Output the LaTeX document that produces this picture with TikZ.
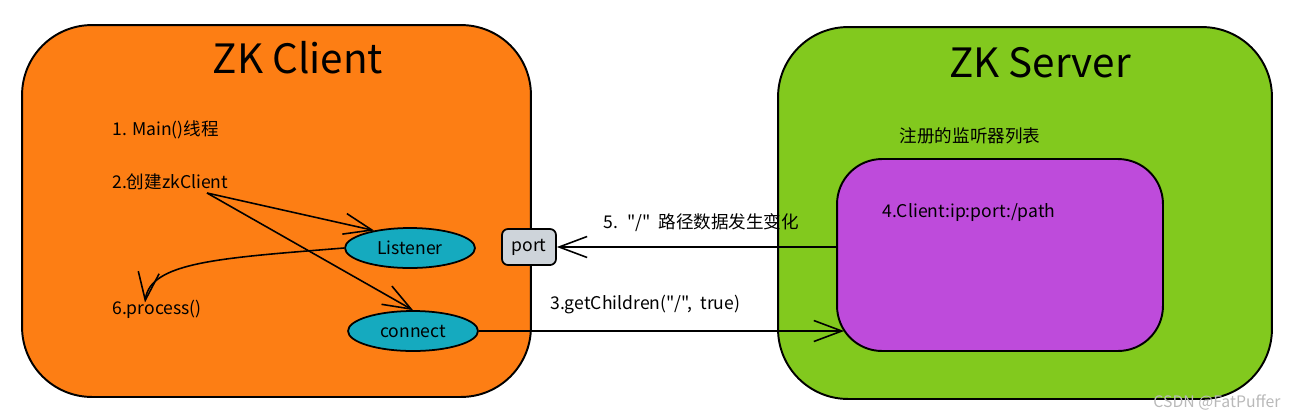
\documentclass[tikz,border=0pt]{standalone}
\usepackage{fontspec}
\setmainfont{Noto Sans CJK SC}[Ligatures=TeXOff]
\usetikzlibrary{shapes.geometric,arrows.meta,calc}
\definecolor{clientorange}{HTML}{FD7E14}
\definecolor{servergreen}{HTML}{82C91E}
\definecolor{listpurple}{HTML}{BE4BDB}
\definecolor{threadcyan}{HTML}{15AABF}
\definecolor{portgray}{HTML}{CED4DA}
\tikzset{
  box/.style = {draw, line width=1.1pt, rounded corners=1.4cm},
  thread/.style = {ellipse, draw, line width=1pt, fill=threadcyan,
    minimum width=2.6cm, minimum height=0.8cm, inner sep=0pt},
  title/.style = {font=\fontsize{23}{28}\selectfont},
  note/.style = {anchor=west, inner sep=0pt},
  call/.style = {-{Straight Barb[length=5.6mm,width=4.2mm]}, line width=0.9pt}
}

\begin{document}
\begin{tikzpicture}[x=0.02cm,y=-0.02cm]
  \useasboundingbox (0,0) rectangle (1289,417);
  \node[box,fill=clientorange,minimum width=10.18cm,minimum height=7.44cm] (client) at (276.5,211) {};
  \node[box,fill=servergreen,minimum width=9.88cm,minimum height=7.44cm] (server) at (1025,213) {};
  \node[box,rounded corners=0.9cm,fill=listpurple,minimum width=6.52cm,minimum height=3.84cm] (registry) at (1000,255) {};
  \node[title] (clienttitle) at (298,58) {ZK Client};
  \node[title] (servertitle) at (1040,63) {ZK Server};

  \node[note] (main)    at (112,130) {1. Main()线程};
  \node[note] (create)  at (112,182) {2.创建zkClient};
  \node[note] (process) at (112,309) {6.process()};
  \node[thread] (listener) at (410,248) {Listener};
  \node[thread] (connect)  at (413,331) {connect};
  \node[draw,line width=1pt,rounded corners=0.12cm,fill=portgray,
        minimum width=1.08cm,minimum height=0.72cm,inner sep=0pt] (port) at (529,247) {port};
  \node (registrylabel) at (970,136) {注册的监听器列表};
  \node[note] (path) at (882,213) {4.Client:ip:port:/path};
  \node[note] (changed) at (603,223) {5. \ "/" \ 路径数据发生变化};
  \node[note] (getchildren) at (550,305) {3.getChildren("/", \ true)};
  \node[text=gray!55,font=\small] (mark) at (1217,402) {CSDN @FatPuffer};

  \coordinate (fork) at (207,193);
  \draw[call] (fork) -- (listener.154);
  \draw[call] (fork) -- (connect.north);
  \draw[call] (listener.west) .. controls (220,258) and (150,262) .. ($(process.north west)+(33,3)$);
  \draw[call] (registry.west |- port.east) -- (port.east);
  \draw[call] (connect.east) -- ($(registry.west |- connect.east)+(8,0)$);
\end{tikzpicture}
\end{document}
